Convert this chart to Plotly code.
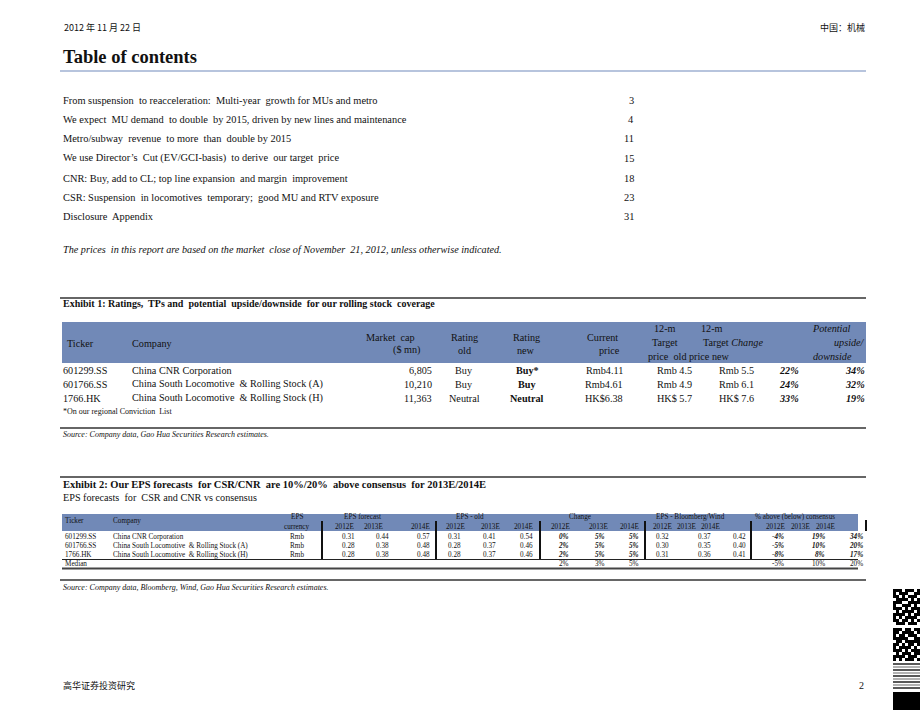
import plotly.graph_objects as go

SERIF = "Liberation Serif, Times New Roman, serif"
CJK = "Noto Sans CJK SC, sans-serif"
BAND = "#7189b7"
INK = "#111111"

# ---- data -----------------------------------------------------------------
REPORT_DATE = "2012 年 11 月 22 日"
SECTOR = "中国：机械"
FOOTER = "高华证券投资研究"
PAGE_NO = "2"

TOC_TITLES = [
    "From suspension  to reacceleration:  Multi-year  growth for MUs and metro",
    "We expect  MU demand  to double  by 2015, driven by new lines and maintenance",
    "Metro/subway  revenue  to more  than  double by 2015",
    "We use Director’s  Cut (EV/GCI-basis)  to derive  our target  price",
    "CNR: Buy, add to CL; top line expansion  and margin  improvement",
    "CSR: Suspension  in locomotives  temporary;  good MU and RTV exposure",
    "Disclosure  Appendix",
]
TOC_PAGES = ["3", "4", "11", "15", "18", "23", "31"]
TOC_Y = [100, 119, 138, 158, 178, 197, 216]

NOTE = "The prices  in this report are based on the market  close of November  21, 2012, unless otherwise indicated."

EX1_TITLE = "Exhibit 1: Ratings,  TPs and  potential  upside/downside  for our rolling stock  coverage"
EX1_SOURCE = "Source: Company data, Gao Hua Securities Research estimates."
EX1_FOOTNOTE = "*On our regional Conviction  List"

TICKERS = ["601299.SS", "601766.SS", "1766.HK"]
COMPANIES = [
    "China CNR Corporation",
    "China South Locomotive  & Rolling Stock (A)",
    "China South Locomotive  & Rolling Stock (H)",
]
MARKET_CAP = ["6,805", "10,210", "11,363"]
RATING_OLD = ["Buy", "Buy", "Neutral"]
RATING_NEW = ["Buy*", "Buy", "Neutral"]
CURRENT_PRICE = ["Rmb4.11", "Rmb4.61", "HK$6.38"]
TP_OLD = ["Rmb 4.5", "Rmb 4.9", "HK$ 5.7"]
TP_NEW = ["Rmb 5.5", "Rmb 6.1", "HK$ 7.6"]
TP_CHANGE = ["22%", "24%", "33%"]
UPSIDE = ["34%", "32%", "19%"]

EX2_TITLE = "Exhibit 2: Our EPS forecasts  for CSR/CNR  are 10%/20%  above consensus  for 2013E/2014E"
EX2_SUB = "EPS forecasts  for  CSR and CNR vs consensus"
EX2_SOURCE = "Source: Company data, Bloomberg, Wind, Gao Hua Securities Research estimates."

GROUPS = ["EPS forecast", "EPS - old", "Change", "EPS - Bloomberg/Wind", "% above (below) consensus"]
YEARS = ["2012E", "2013E", "2014E"]
EPS_CCY = ["Rmb", "Rmb", "Rmb"]
EPS_NEW = [[0.31, 0.44, 0.57], [0.28, 0.38, 0.48], [0.28, 0.38, 0.48]]
EPS_OLD = [[0.31, 0.41, 0.54], [0.28, 0.37, 0.46], [0.28, 0.37, 0.46]]
EPS_CHG = [["0%", "5%", "5%"], ["2%", "5%", "5%"], ["2%", "5%", "5%"]]
EPS_CONS = [[0.32, 0.37, 0.42], [0.30, 0.35, 0.40], [0.31, 0.36, 0.41]]
VS_CONS = [["-4%", "19%", "34%"], ["-5%", "10%", "20%"], ["-8%", "8%", "17%"]]
MEDIAN_CHG = ["2%", "3%", "5%"]
MEDIAN_CONS = ["-5%", "10%", "20%"]

# decorative code block bits on the right edge
CODE_BITS = [
    "111011101", "101110011", "110101110", "011110101", "111001111",
    "100111010", "111010111", "010111101", "111101011", "101011110",
    "110110101", "011101110", "000000000",
    "111011011", "110111101", "101101110", "111110011", "011011111",
    "110101101", "101111010", "111010111", "010111011", "111101110",
    "101011101",
]

# ---- figure ---------------------------------------------------------------
fig = go.Figure()


def label(x, y, text, size=10, anchor="left", family=SERIF, color=INK):
    fig.add_annotation(x=x, y=y, xref="x", yref="y", text=text, showarrow=False,
                       xanchor=anchor, yanchor="middle", borderpad=0,
                       font=dict(family=family, size=size, color=color))


def hline(y, x0=60, x1=866, color="#333333", width=1.5):
    fig.add_shape(type="line", x0=x0, x1=x1, y0=y, y1=y, xref="x", yref="y",
                  line=dict(color=color, width=width))


def vline(x, y0, y1, color="#111111", width=2):
    fig.add_shape(type="line", x0=x, x1=x, y0=y0, y1=y1, xref="x", yref="y",
                  line=dict(color=color, width=width))


def band(x0, x1, y0, y1):
    fig.add_shape(type="rect", x0=x0, x1=x1, y0=y0, y1=y1, xref="x", yref="y",
                  fillcolor=BAND, line=dict(width=0), layer="below")


T = 10.2   # body text size
# page header
label(63, 27, REPORT_DATE, size=9, family=CJK)
label(866, 27, SECTOR, size=9, anchor="right", family=CJK)
label(62, 57, "<b>Table of contents</b>", size=18.5)
hline(71, color="#9fb0d2", width=1.5)

# table of contents
for title, page, y in zip(TOC_TITLES, TOC_PAGES, TOC_Y):
    label(62, y, title, size=10.4)
    label(635, y, page, size=10.4, anchor="right")
label(62, 249, "<i>" + NOTE + "</i>", size=10.2)

# exhibit 1
hline(298)
label(62, 303, "<b>" + EX1_TITLE + "</b>", size=10)
band(62, 866, 322, 363)
label(66, 343, "Ticker", size=T)
label(131, 343, "Company", size=T)
label(416, 337, "Market  cap", size=T, anchor="right")
label(421, 350, "($ mn)", size=T, anchor="right")
for cx, sub in [(464, "old"), (526, "new")]:
    label(cx, 337, "Rating", size=T, anchor="center")
    label(cx, 350, sub, size=T, anchor="center")
label(602, 337, "Current", size=T, anchor="center")
label(621, 350, "price", size=T, anchor="right")
label(665, 328, "12-m", size=T, anchor="center")
label(712, 328, "12-m", size=T, anchor="center")
label(665, 342, "Target", size=T, anchor="center")
label(702, 342, "Target <i>Change</i>", size=T, anchor="left")
label(647, 356, "price  old price new", size=T, anchor="left")
label(852, 328, "<i>Potential</i>", size=T, anchor="right")
label(866, 342, "<i>upside/</i>", size=T, anchor="right")
label(853, 356, "<i>downside</i>", size=T, anchor="right")

for i, y in enumerate([370, 384, 398]):
    label(62, y, TICKERS[i], size=T)
    label(131, y, COMPANIES[i], size=T)
    label(433, y, MARKET_CAP[i], size=T, anchor="right")
    label(464, y, RATING_OLD[i], size=T, anchor="center")
    label(527, y, "<b>" + RATING_NEW[i] + "</b>", size=T, anchor="center")
    label(604, y, CURRENT_PRICE[i], size=T, anchor="center")
    label(674, y, TP_OLD[i], size=T, anchor="center")
    label(736, y, TP_NEW[i], size=T, anchor="center")
    label(800, y, "<b><i>" + TP_CHANGE[i] + "</i></b>", size=T, anchor="right")
    label(866, y, "<b><i>" + UPSIDE[i] + "</i></b>", size=T, anchor="right")
label(62, 411, EX1_FOOTNOTE, size=8)
hline(428)
label(62, 434, "<i>" + EX1_SOURCE + "</i>", size=8)

# exhibit 2
hline(477)
label(62, 484, "<b>" + EX2_TITLE + "</b>", size=10.5)
label(62, 497, EX2_SUB, size=10.2)
band(62, 858, 514, 531)
S = 7.2
label(64, 521, "Ticker", size=S)
label(112, 521, "Company", size=S)
label(297, 517, "EPS", size=S, anchor="center")
label(297, 527, "currency", size=S, anchor="center")

group_edges = [322, 436, 540, 645, 751, 866]
group_centers = [362, 470, 580, 690, 795]
value_rights = [[356, 390, 431], [462, 497, 534], [570, 606, 640], [670, 712, 747], [785, 826, 864]]
year_pos = [[(344, "center"), (373, "center"), (431, "right")],
            [(455, "center"), (490, "center"), (534, "right")],
            [(560, "center"), (598, "center"), (640, "right")],
            [(662, "center"), (686, "center"), (710, "center")],
            [(775, "center"), (800, "center"), (825, "center")]]

for g, name in enumerate(GROUPS):
    label(group_centers[g], 517, name, size=S, anchor="center")
    for (x, anc), yr in zip(year_pos[g], YEARS):
        label(x, 527, yr, size=S, anchor=anc)

rows_y = [537, 546, 555]
for i, y in enumerate(rows_y):
    label(64, y, TICKERS[i], size=S)
    label(112, y, COMPANIES[i], size=S)
    label(297, y, EPS_CCY[i], size=S, anchor="center")
    cols = [
        [f"{v:.2f}" for v in EPS_NEW[i]],
        [f"{v:.2f}" for v in EPS_OLD[i]],
        ["<b><i>" + v + "</i></b>" for v in EPS_CHG[i]],
        [f"{v:.2f}" for v in EPS_CONS[i]],
        ["<b><i>" + v + "</i></b>" for v in VS_CONS[i]],
    ]
    for g, vals in enumerate(cols):
        for xr, v in zip(value_rights[g], vals):
            label(xr, y, v, size=S, anchor="right")

label(64, 564, "Median", size=S)
for xr, v in zip(value_rights[2], MEDIAN_CHG):
    label(xr, 564, v, size=S, anchor="right")
for xr, v in zip(value_rights[4], MEDIAN_CONS):
    label(xr, 564, v, size=S, anchor="right")

for x in group_edges[:-1]:
    vline(x, 521, 559)
vline(group_edges[-1], 520, 531)
hline(559.5, x0=62, x1=858, color="#222222", width=1)
hline(568.5, x0=62, x1=858, color="#444444", width=2)
hline(580)
label(62, 587, "<i>" + EX2_SOURCE + "</i>", size=8)

# footer
label(62, 685, FOOTER, size=9, family=CJK)
label(865, 685, PAGE_NO, size=10, anchor="right")

# decorative code strip on the right edge
fig.add_trace(go.Heatmap(
    z=[[int(c) for c in row] for row in CODE_BITS],
    x0=894.5, dx=3, y0=590.5, dy=3,
    colorscale=[[0, "white"], [1, "black"]], showscale=False, hoverinfo="skip",
))
for k, yy in enumerate(range(664, 690, 3)):
    hline(yy, x0=893, x1=920, color="#222222" if k % 2 == 0 else "#999999", width=1.5)
fig.add_shape(type="rect", x0=893, x1=920, y0=692, y1=710, xref="x", yref="y",
              fillcolor="black", line=dict(width=0))

fig.update_layout(
    width=920, height=710,
    margin=dict(l=0, r=0, t=0, b=0),
    paper_bgcolor="white", plot_bgcolor="white",
    xaxis=dict(range=[0, 920], visible=False, fixedrange=True),
    yaxis=dict(range=[710, 0], visible=False, fixedrange=True),
    showlegend=False,
)

fig.write_html("out.html", config={"displayModeBar": False},
               post_script="document.body.style.margin='0';document.body.style.overflow='hidden';")
